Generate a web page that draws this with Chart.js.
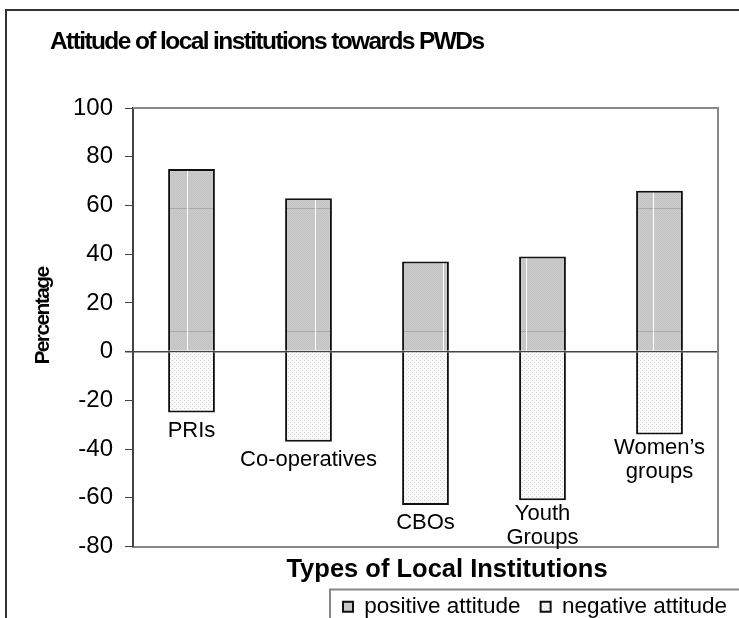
<!DOCTYPE html>
<html>
<head>
<meta charset="utf-8">
<style>
  html, body { margin: 0; padding: 0; background: #fff; }
  #wrap { position: relative; width: 739px; height: 618px; overflow: hidden; }
  #frame { position: absolute; left: 5px; top: 9px; width: 800px; height: 700px;
           border-left: 2px solid #333; border-top: 2px solid #333; pointer-events: none; }
</style>
</head>
<body>
<div id="wrap">
  <canvas id="chart" width="739" height="618"></canvas>
  <div id="frame"></div>
</div>
<script src="https://cdn.jsdelivr.net/npm/chart.js@4.4.0/dist/chart.umd.min.js"></script>
<script>
  const FONT = "'Liberation Sans', Arial, sans-serif";

  const chartTitle = 'Attitude of local institutions towards PWDs';
  const xTitle = 'Types of Local Institutions';
  const yTitle = 'Percentage';
  const categories = [['PRIs'], ['Co-operatives'], ['CBOs'], ['Youth', 'Groups'], ['Women\u2019s', 'groups']];
  const seriesNames = ['positive attitude', 'negative attitude'];
  const positive = [75, 63, 37, 39, 66];
  const negative = [-25, -37, -63, -61, -34];
  const yTicks = [100, 80, 60, 40, 20, 0, -20, -40, -60, -80];

  // where the white streak sits inside each positive bar (share of bar width)
  const stripeAt = [0.40, 0.64, 0.88, 0.14, 0.36];

  const ctx = document.getElementById('chart').getContext('2d');

  function makePattern(w, h, paint) {
    const c = document.createElement('canvas');
    c.width = w; c.height = h;
    paint(c.getContext('2d'), w, h);
    return ctx.createPattern(c, 'repeat');
  }

  const posFill = makePattern(2, 246, (g, w, h) => {
    g.fillStyle = '#cbcbcb';
    g.fillRect(0, 0, w, h);
    g.fillStyle = '#c3c3c3';
    for (let y = 0; y < h; y++) g.fillRect(y % 2, y, 1, 1);
    g.fillStyle = '#a8a8a8';
    g.fillRect(0, 85, w, 1);
    g.fillRect(0, 208, w, 1);
  });

  const negFill = makePattern(4, 4, (g, w, h) => {
    g.fillStyle = '#f8f8f8';
    g.fillRect(0, 0, w, h);
    g.fillStyle = '#d8d8d8';
    g.fillRect(0, 0, 1, 1);
    g.fillRect(2, 2, 1, 1);
  });

  const decorations = {
    id: 'decorations',
    beforeDatasetsDraw(chart) {
      const {ctx, chartArea: a} = chart;
      ctx.save();
      ctx.strokeStyle = '#888';
      ctx.lineWidth = 2;
      ctx.beginPath();
      ctx.moveTo(a.left, a.top);
      ctx.lineTo(a.right, a.top);
      ctx.lineTo(a.right, a.bottom);
      ctx.stroke();
      ctx.restore();
    },
    afterDatasetsDraw(chart) {
      const ctx = chart.ctx;
      ctx.save();
      ctx.strokeStyle = '#fff';
      ctx.lineWidth = 1;
      chart.getDatasetMeta(0).data.forEach((bar, i) => {
        const x = Math.round(bar.x - bar.width / 2 + stripeAt[i] * bar.width) + 0.5;
        ctx.beginPath();
        ctx.moveTo(x, bar.y + 2);
        ctx.lineTo(x, bar.base);
        ctx.stroke();
      });
      ctx.restore();
    },
    afterDraw(chart) {
      const ctx = chart.ctx;
      ctx.save();
      ctx.fillStyle = '#000';

      // category names under the negative bars
      ctx.font = '22px ' + FONT;
      ctx.textAlign = 'center';
      ctx.textBaseline = 'alphabetic';
      chart.getDatasetMeta(1).data.forEach((bar, i) => {
        const lines = chart.data.labels[i];
        let y = bar.y + (lines.length > 1 ? 20 : 24);
        lines.forEach(t => { ctx.fillText(t, bar.x, y); y += 24; });
      });

      // chart title
      ctx.font = 'bold 24.5px ' + FONT;
      ctx.letterSpacing = '-1.6px';
      ctx.textAlign = 'left';
      ctx.fillText(chartTitle, 50, 49);

      // x title
      ctx.font = 'bold 25.5px ' + FONT;
      ctx.letterSpacing = '0px';
      ctx.textAlign = 'center';
      ctx.fillText(xTitle, 447, 577);

      // y title
      ctx.translate(43, 316);
      ctx.rotate(-Math.PI / 2);
      ctx.font = 'bold 21px ' + FONT;
      ctx.letterSpacing = '-1.6px';
      ctx.textBaseline = 'middle';
      ctx.fillText(yTitle, 0, 0);
      ctx.restore();

      // legend frame
      const lg = chart.legend;
      const lx = Math.min(...lg.legendHitBoxes.map(b => b.left)) - 13;
      const ly = lg.top + 14;
      ctx.save();
      ctx.strokeStyle = '#888';
      ctx.lineWidth = 2;
      ctx.beginPath();
      ctx.moveTo(lx, chart.height + 5);
      ctx.lineTo(lx, ly);
      ctx.lineTo(chart.width + 5, ly);
      ctx.stroke();
      ctx.restore();
    }
  };

  new Chart(ctx, {
    type: 'bar',
    data: {
      labels: categories,
      datasets: [
        {
          label: seriesNames[0],
          data: positive,
          backgroundColor: posFill,
          borderColor: '#111',
          borderWidth: 2,
          barPercentage: 0.4,
          categoryPercentage: 1.0
        },
        {
          label: seriesNames[1],
          data: negative,
          backgroundColor: negFill,
          borderColor: '#111',
          borderWidth: 2,
          barPercentage: 0.4,
          categoryPercentage: 1.0
        }
      ]
    },
    options: {
      responsive: false,
      animation: false,
      devicePixelRatio: 1,
      layout: { padding: { top: 108, right: -8, bottom: -10, left: 0 } },
      scales: {
        x: {
          stacked: true,
          afterFit: s => { s.height = 29; },
          ticks: { display: false },
          grid: { display: false },
          border: { color: '#888', width: 2 }
        },
        y: {
          stacked: true,
          min: Math.min(...yTicks),
          max: Math.max(...yTicks),
          z: 1,
          afterFit: s => { s.width = 133; },
          ticks: { stepSize: 20, padding: 12, color: '#000', font: { family: FONT, size: 24 } },
          grid: {
            color: c => (c.tick && c.tick.value === 0 ? '#444' : 'rgba(0,0,0,0)'),
            lineWidth: c => (c.tick && c.tick.value === 0 ? 1.5 : 1),
            tickColor: '#444',
            tickLength: 8
          },
          border: { color: '#444', width: 2 }
        },
        yRight: {
          position: 'right',
          afterFit: s => { s.width = 29; },
          ticks: { display: false },
          grid: { display: false },
          border: { display: false }
        }
      },
      plugins: {
        tooltip: { enabled: false },
        title: { display: false },
        legend: {
          position: 'bottom',
          align: 'end',
          labels: { boxWidth: 10, boxHeight: 10, padding: 20, color: '#000', font: { family: FONT, size: 22.5 } }
        }
      }
    },
    plugins: [decorations]
  });
</script>
</body>
</html>
